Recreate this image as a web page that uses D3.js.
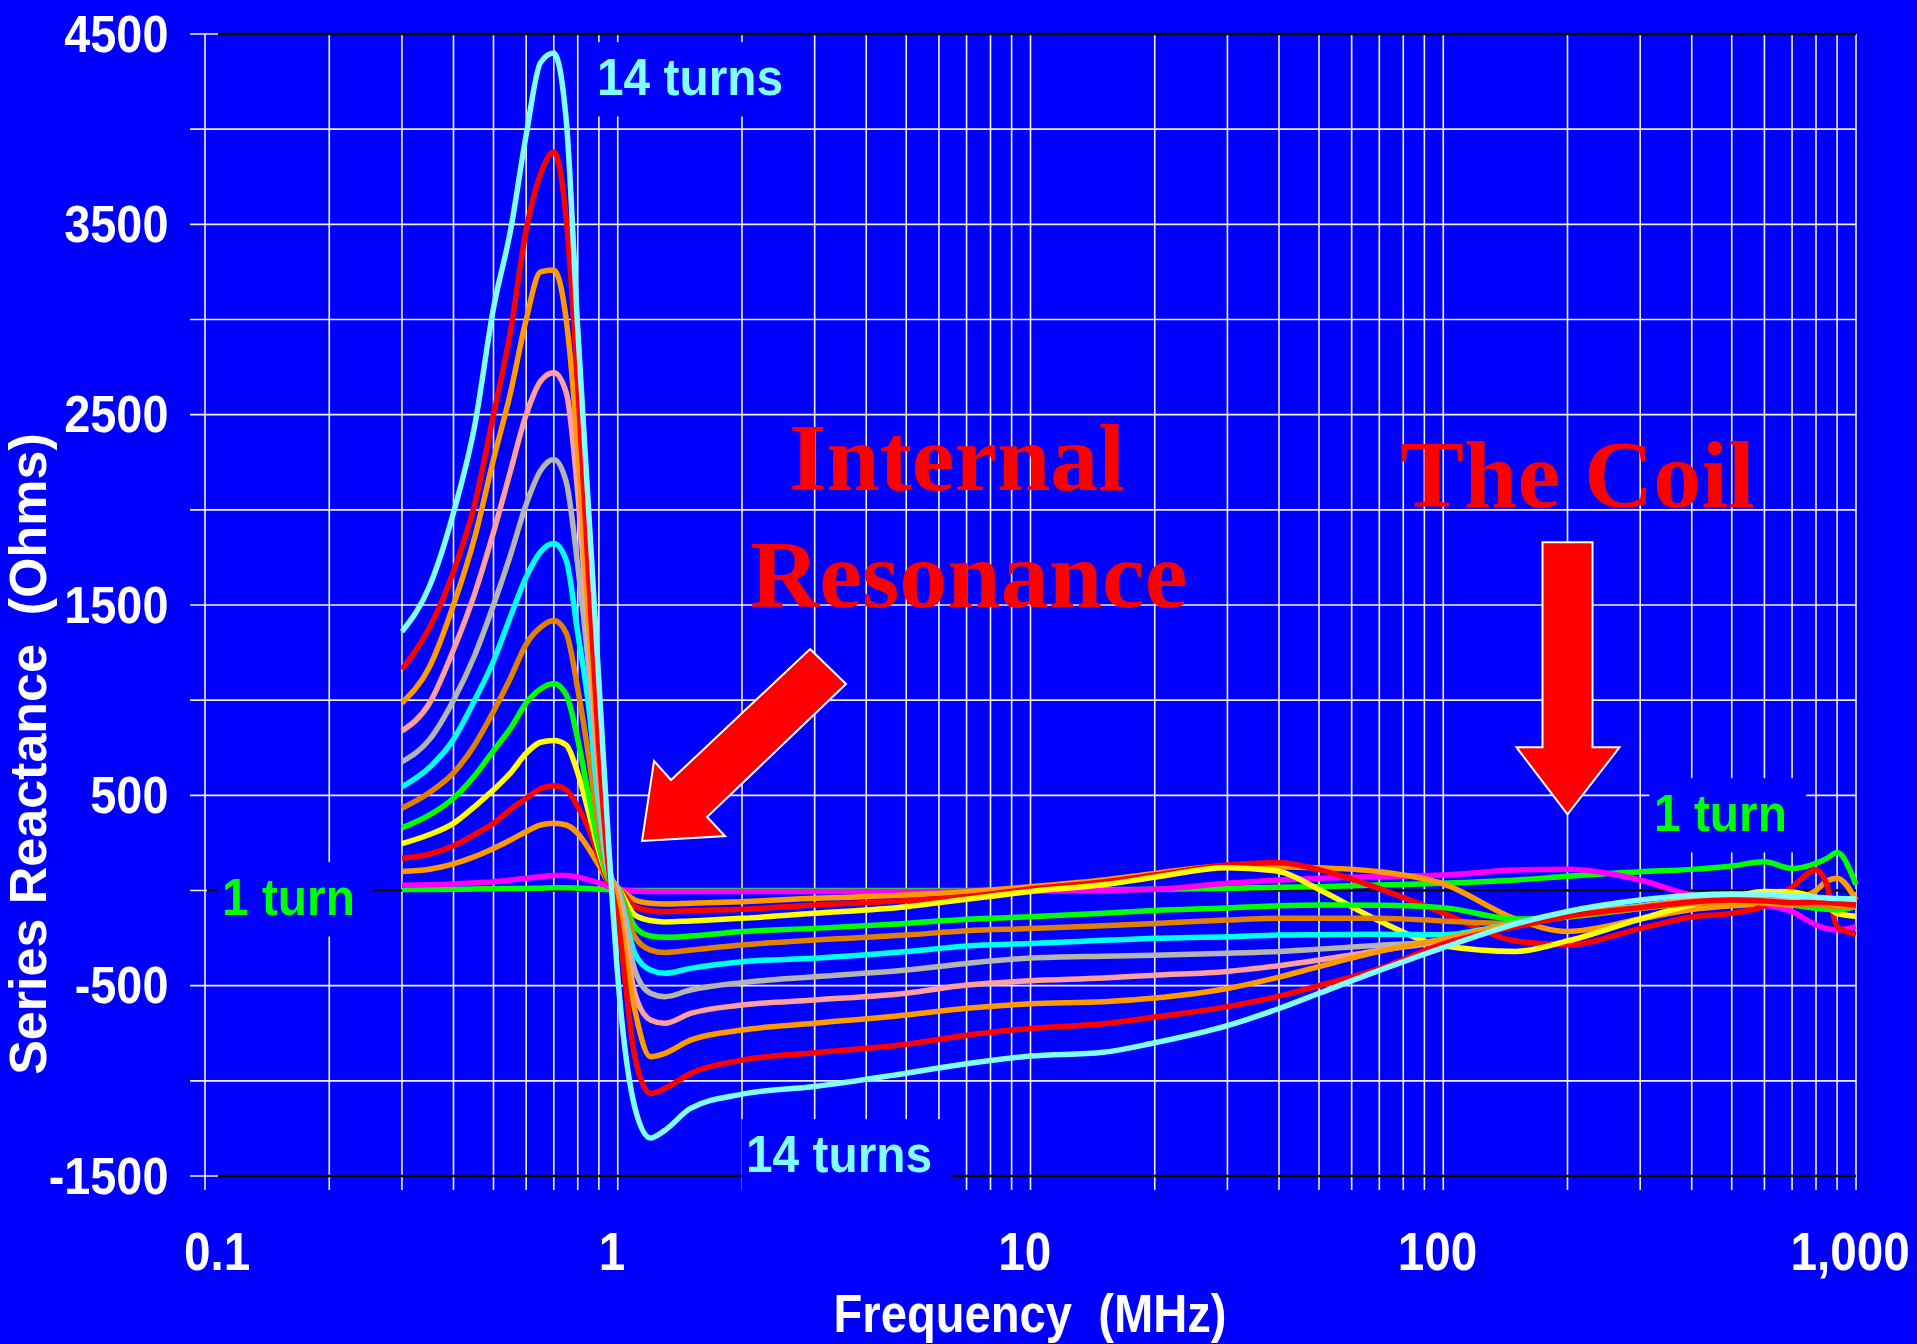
<!DOCTYPE html>
<html>
<head>
<meta charset="UTF-8">
<title>Series Reactance vs Frequency</title>
<script src="https://d3js.org/d3.v7.min.js"></script>
<style>
  body { margin: 0; background: #0000ff; }
  svg { display: block; }
  .sans { font-family: Arial, "Liberation Sans", sans-serif; font-weight: bold; }
  .serif { font-family: "Times New Roman", "Liberation Serif", serif; font-weight: bold; }
</style>
</head>
<body>
<svg width="1917" height="1344"></svg>
<script>
// frequency points (MHz) shared by all sweeps
const freqs = [0.3,0.35,0.4,0.45,0.5,0.55,0.6,0.65,0.7,0.75,0.8,0.85,0.9,0.95,
  1,1.1,1.2,1.3,1.5, 2,3,5,7, 10,15,20,30,40,50,70,
  100,150,200,300,400,500,600,700,800,850,900,1000];

// series reactance (ohms)
const turns1  = [5,5,6,8,9,10,11,12,14,14,12,10,7,4, 0,0,0,0,0, 0,0,0,0, 2,4,6,11,17,20,29, 38,55,75,99,111,129,151,116,143,169,199,30];
const turns2  = [28,30,34,40,46,55,64,72,79,79,70,56,40,20, 5,-3,-5,-5,-5, -5,-5,-5,-4, -3,0,6,38,55,64,73, 81,108,111,55,-24,-50,-76,-111,-181,-200,-208,-190];
const turns3  = [100,112,140,178,221,265,309,344,353,344,300,221,132,44, 15,-50,-67,-71,-67, -59,-41,-24,-6, 20,55,90,129,125,120,99, 35,-150,-215,-150,-100,-80,-70,-50,0,50,65,-50];
const turns4  = [170,191,235,294,353,426,485,535,550,529,441,324,176,44, 15,-85,-106,-111,-106, -99,-76,-53,-32, 8,45,81,134,146,110,10, -118,-265,-285,-200,-139,-120,-80,19,108,30,-190,-230];
const turns5  = [246,294,353,441,529,618,721,779,788,765,618,412,206,59, 15,-129,-158,-165,-160, -146,-120,-85,-46, -5,30,70,120,100,5,-160, -290,-320,-265,-150,-75,-34,-5,-8,-45,-80,-120,-135];
const turns6  = [329,397,485,603,735,853,985,1059,1088,1029,794,500,235,59, 15,-190,-239,-246,-239, -216,-199,-173,-151, -138,-120,-105,-92,-80,-76,-78, -90,-150,-140,-94,-67,-59,-59,-76,-94,-98,-102,-85];
const turns7  = [432,515,618,765,941,1118,1294,1382,1418,1353,1059,706,324,74, 15,-243,-313,-326,-313, -286,-260,-234,-211, -200,-185,-173,-155,-146,-146,-146, -160,-175,-137,-94,-67,-59,-64,-76,-76,-80,-85,-76];
const turns8  = [544,647,794,1000,1206,1441,1647,1779,1823,1735,1353,970,441,88, 10,-330,-418,-435,-409, -374,-356,-321,-291, -278,-262,-251,-243,-234,-232,-230, -232,-170,-122,-81,-50,-41,-50,-53,-59,-59,-59,-53];
const turns9  = [676,794,1000,1235,1500,1765,2029,2206,2265,2147,1706,1176,559,103, 0,-418,-540,-558,-523, -484,-453,-418,-383, -355,-345,-340,-330,-320,-308,-288, -265,-175,-128,-85,-50,-41,-50,-55,-60,-62,-65,-65];
const turns10 = [838,985,1265,1559,1882,2206,2500,2676,2720,2617,2088,1324,618,118, -20,-540,-680,-698,-646, -602,-575,-540,-497, -474,-460,-445,-425,-395,-365,-315, -265,-175,-130,-85,-50,-41,-50,-59,-59,-63,-67,-67];
const turns11 = [985,1176,1500,1853,2265,2617,3000,3250,3260,3000,2323,1412,676,147, -60,-628,-873,-856,-786, -733,-698,-654,-619, -595,-585,-565,-515,-455,-400,-320, -255,-175,-130,-85,-60,-58,-65,-75,-45,-60,-76,-85];
const turns12 = [1162,1382,1676,2029,2500,2941,3470,3764,3880,3530,2650,1650,750,120, -150,-873,-1066,-1040,-961, -891,-852,-808,-760, -725,-700,-665,-610,-555,-500,-410, -280,-190,-135,-90,-60,-50,-55,-65,-60,-62,-67,-76];
const turns14 = [1360,1600,1985,2440,3060,3470,3970,4350,4400,4050,2950,2000,1100,250, -450,-1140,-1300,-1260,-1145, -1070,-1030,-960,-910, -870,-850,-800,-710,-620,-540,-420, -300,-175,-110,-50,-25,-18,-20,-30,-35,-40,-42,-45];

const series = [
  { values: turns1,  color: "#00ff00" },
  { values: turns2,  color: "#ff00ff" },
  { values: turns3,  color: "#ff9900" },
  { values: turns4,  color: "#ff0000" },
  { values: turns5,  color: "#ffff00" },
  { values: turns6,  color: "#00ff00" },
  { values: turns7,  color: "#e08000" },
  { values: turns8,  color: "#00ffff" },
  { values: turns9,  color: "#b4b4b4" },
  { values: turns10, color: "#ff9f9f" },
  { values: turns11, color: "#ff9900" },
  { values: turns12, color: "#ff0000" },
  { values: turns14, color: "#80ffff" }
];

const yTicks = [4500, 3500, 2500, 1500, 500, -500, -1500];
const xTicks = [0.1, 1, 10, 100, 1000];
const xTickLabels = ["0.1", "1", "10", "100", "1,000"];

const svg = d3.select("svg");
const W = 1917, H = 1344;
svg.append("rect").attr("width", W).attr("height", H).attr("fill", "#0000ff");

const x = d3.scaleLog().domain([0.1, 1000]).range([205, 1856]);
const y = d3.scaleLinear().domain([-1500, 4500]).range([1176, 34]);

// grid lines
const grid = svg.append("g");
grid.selectAll(".vg")
  .data(x.ticks())
  .enter().append("line")
  .attr("x1", d => x(d)).attr("x2", d => x(d))
  .attr("y1", y(4500)).attr("y2", 1190)
  .attr("stroke", "#f0f0ff").attr("stroke-width", 1.6);

grid.selectAll(".hg")
  .data(y.ticks(12))
  .enter().append("line")
  .attr("x1", 190).attr("x2", x(1000))
  .attr("y1", d => y(d)).attr("y2", d => y(d))
  .attr("stroke", "#f0f0ff").attr("stroke-width", 1.6);

// black frame lines at top, bottom and zero
grid.selectAll(".bl")
  .data([4500, 0, -1500])
  .enter().append("line")
  .attr("x1", d => d === 0 ? 207 : 218).attr("x2", x(1000))
  .attr("y1", d => y(d)).attr("y2", d => y(d))
  .attr("stroke", "#000").attr("stroke-width", 2.4);

// labels with blue boxes that hide the grid
function boxedLabel(text, color, px, py) {
  const g = svg.append("g").attr("transform", `translate(${px},${py}) scale(0.92,1)`);
  const rect = g.append("rect").attr("fill", "#0000ff");
  const t = g.append("text").attr("class", "sans").attr("font-size", 52)
    .attr("fill", color).text(text);
  const b = t.node().getBBox();
  rect.attr("x", b.x - 5).attr("y", b.y - 6)
    .attr("width", b.width + 26).attr("height", b.height + 16);
}
boxedLabel("14 turns", "#80ffff", 597, 95);
boxedLabel("14 turns", "#80ffff", 746, 1172);
boxedLabel("1 turn", "#00ff00", 222, 915);
boxedLabel("1 turn", "#00ff00", 1654, 831);

// curves
const line = d3.line()
  .x((d, i) => x(freqs[i]))
  .y(d => y(d))
  .curve(d3.curveMonotoneX);

svg.append("g").selectAll("path")
  .data(series)
  .enter().append("path")
  .attr("d", d => line(d.values))
  .attr("fill", "none")
  .attr("stroke", d => d.color)
  .attr("stroke-width", 5.5)
  .attr("stroke-linejoin", "round");

// axes
const yAxis = svg.append("g")
  .attr("transform", "translate(190,0)")
  .call(d3.axisLeft(y).tickValues(yTicks).tickSize(0).tickPadding(24).tickFormat(d => String(d)));
yAxis.select(".domain").remove();
yAxis.attr("font-family", null).attr("font-size", null);
yAxis.selectAll("text")
  .attr("class", "sans").attr("font-size", 52).attr("fill", "#fff")
  .attr("dy", "0.33em")
  .attr("transform", "scale(0.9,1)");

const xAxis = svg.append("g")
  .attr("transform", `translate(0,${y(-1500)})`)
  .call(d3.axisBottom(x).tickValues(xTicks).tickSize(0).tickPadding(56)
    .tickFormat((d, i) => xTickLabels[i]));
xAxis.select(".domain").remove();
xAxis.attr("font-family", null).attr("font-size", null);
xAxis.selectAll("text")
  .attr("class", "sans").attr("font-size", 53).attr("fill", "#fff")
  .attr("dx", (d, i) => i === 0 ? 13 : -7)
  .attr("transform", "scale(0.9,1)");

// axis titles
svg.append("text")
  .attr("class", "sans").attr("font-size", 53).attr("fill", "#fff")
  .attr("text-anchor", "middle").style("white-space", "pre")
  .attr("transform", "translate(1030,1332) scale(0.89,1)")
  .text("Frequency  (MHz)");

svg.append("text")
  .attr("class", "sans").attr("font-size", 52).attr("fill", "#fff")
  .attr("text-anchor", "middle").style("white-space", "pre")
  .attr("transform", "translate(46,754) rotate(-90)")
  .text("Series Reactance  (Ohms)");

// red annotations
const notes = [
  { text: "Internal",  px: 789,  py: 490 },
  { text: "Resonance", px: 750,  py: 607 },
  { text: "The Coil",  px: 1400, py: 507 }
];
svg.selectAll(".note")
  .data(notes)
  .enter().append("text")
  .attr("class", "serif").attr("font-size", 96).attr("fill", "#ff0000")
  .attr("x", d => d.px).attr("y", d => d.py)
  .text(d => d.text);

// arrows: tip given in data units, outline as pixel offsets from the tip
const arrows = [
  { f: 1.145, v: 260, shape: [[168,-192],[204,-157],[65,-24],[83,-5],[0,0],[12,-80],[29,-61]] },
  { f: 200, v: 400, shape: [[-25,-272],[25,-272],[25,-67],[52,-67],[0,0],[-51,-67],[-25,-67]] }
];
svg.selectAll(".arrow")
  .data(arrows)
  .enter().append("polygon")
  .attr("points", d => d.shape.map(p => [x(d.f) + p[0], y(d.v) + p[1]].join(",")).join(" "))
  .attr("fill", "#ff0000")
  .attr("stroke", "#fff")
  .attr("stroke-width", 2);
</script>
</body>
</html>
